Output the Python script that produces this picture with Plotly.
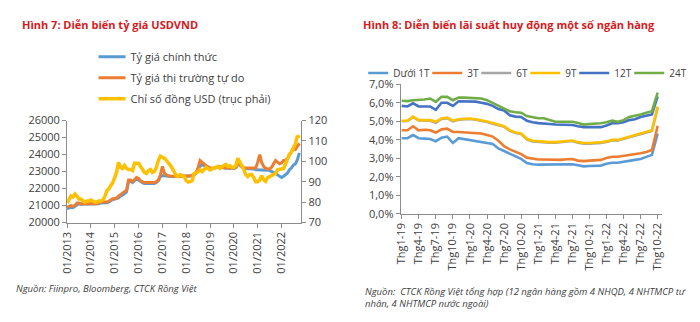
import plotly.graph_objects as go
import pandas as pd

# ---------------- Left chart data (monthly, 01/2013 - 10/2022) ----------------
months = pd.date_range("2013-01-01", "2022-10-01", freq="MS")

official_rate = [
    20800, 20850, 20900, 20880, 20950, 21050, 21100, 21080, 21080, 21080, 21080, 21080,
    21060, 21060, 21070, 21080, 21100, 21150, 21150, 21150, 21160, 21200, 21300, 21350,
    21380, 21400, 21450, 21550, 21600, 21700, 21800, 22400, 22450, 22350, 22450, 22550,
    22500, 22400, 22350, 22300, 22300, 22300, 22300, 22300, 22300, 22350, 22450, 22700,
    22750, 22750, 22720, 22700, 22700, 22700, 22700, 22700, 22700, 22700, 22700, 22700,
    22700, 22700, 22730, 22760, 22800, 22900, 23150, 23300, 23400, 23350, 23300, 23250,
    23180, 23180, 23200, 23220, 23280, 23260, 23230, 23200, 23190, 23190, 23180, 23180,
    23180, 23220, 23450, 23380, 23280, 23180, 23180, 23180, 23180, 23180, 23150, 23100,
    23100, 23100, 23100, 23080, 23080, 23080, 23050, 23000, 22950, 22900, 22800, 22720,
    22650, 22720, 22800, 22900, 23100, 23200, 23380, 23450, 23700, 24100,
]
free_market_rate = [
    20900, 20950, 21000, 20950, 21000, 21150, 21150, 21100, 21100, 21100, 21100, 21100,
    21080, 21080, 21090, 21100, 21150, 21200, 21200, 21200, 21200, 21250, 21350, 21400,
    21400, 21450, 21550, 21650, 21700, 21800, 21900, 22500, 22500, 22400, 22500, 22650,
    22600, 22450, 22400, 22350, 22350, 22350, 22350, 22350, 22350, 22400, 22500, 22800,
    23300, 22900, 22800, 22750, 22720, 22720, 22720, 22720, 22720, 22720, 22720, 22720,
    22720, 22720, 22750, 22780, 22820, 22950, 23200, 23650, 23550, 23400, 23350, 23280,
    23200, 23200, 23220, 23250, 23300, 23280, 23250, 23220, 23200, 23200, 23200, 23200,
    23200, 23250, 23650, 23400, 23300, 23200, 23200, 23200, 23200, 23200, 23200, 23200,
    23550, 24000, 23550, 23300, 23200, 23150, 23150, 23250, 23450, 23650, 23550, 23450,
    23500, 23650, 23650, 23750, 23950, 24150, 24350, 24300, 24500, 24650,
]
usd_index = [
    79.5, 81.5, 83.0, 82.5, 84.0, 83.0, 81.5, 81.5, 80.5, 80.0, 80.5, 80.5,
    81.0, 80.5, 80.0, 80.0, 80.5, 80.5, 81.0, 82.5, 85.5, 86.5, 88.0, 89.5,
    92.0, 95.0, 99.5, 97.0, 96.5, 98.0, 96.5, 96.0, 96.0, 95.5, 99.0, 99.0,
    99.0, 97.5, 96.0, 94.5, 94.0, 95.5, 96.0, 94.5, 95.0, 97.0, 100.5, 102.5,
    102.0, 101.5, 100.5, 99.5, 98.0, 96.5, 94.5, 93.0, 92.5, 93.5, 93.0, 92.5,
    90.5, 89.8, 90.0, 90.5, 94.0, 94.5, 94.8, 95.8, 95.0, 96.0, 97.0, 96.5,
    95.8, 96.3, 96.8, 97.2, 97.5, 96.5, 97.5, 98.0, 98.5, 97.5, 97.8, 97.0,
    97.0, 98.0, 101.5, 99.5, 98.5, 96.0, 93.5, 92.5, 93.5, 93.5, 92.0, 90.0,
    90.0, 90.8, 93.0, 91.0, 90.2, 92.0, 92.5, 93.0, 93.7, 94.0, 95.8, 96.0,
    96.5, 96.5, 98.5, 101.0, 103.5, 104.5, 106.5, 108.5, 112.5, 111.5,
]
left_names = ["Tỷ giá chính thức", "Tỷ giá thị trường tự do", "Chỉ số đồng USD (trục phải)"]

# ---------------- Right chart data (monthly, Thg1-19 - Thg10-22) ----------------
rate_months = [f"Thg{m}-{y % 100:02d}" for y in range(2019, 2023) for m in range(1, 13)][:46]

rate_under_1m = [4.08, 4.08, 4.25, 4.08, 4.06, 4.04, 3.92, 4.11, 4.17, 3.82,
                 4.08, 4.03, 3.99, 3.96, 3.91, 3.82, 3.77, 3.53, 3.39, 3.22,
                 3.08, 2.96, 2.74, 2.67, 2.65, 2.65, 2.63, 2.63, 2.63, 2.65,
                 2.67, 2.62, 2.56, 2.58, 2.58, 2.60, 2.70, 2.75, 2.75, 2.79,
                 2.84, 2.91, 2.96, 3.05, 3.18, 4.33]
rate_3m = [4.51, 4.51, 4.73, 4.51, 4.54, 4.51, 4.39, 4.56, 4.60, 4.42,
           4.42, 4.39, 4.39, 4.37, 4.34, 4.25, 4.17, 3.94, 3.65, 3.48,
           3.34, 3.22, 3.03, 2.96, 2.93, 2.93, 2.91, 2.91, 2.91, 2.94,
           2.96, 2.87, 2.84, 2.87, 2.87, 2.91, 3.01, 3.08, 3.08, 3.12,
           3.17, 3.22, 3.27, 3.34, 3.44, 4.75]
rate_6m = [5.00, 5.01, 5.22, 5.04, 5.04, 5.03, 4.92, 5.12, 5.17, 5.00,
           5.08, 5.12, 5.12, 5.08, 5.03, 4.96, 4.87, 4.79, 4.70, 4.48,
           4.36, 4.31, 4.02, 3.91, 3.88, 3.88, 3.84, 3.84, 3.88, 3.91,
           3.93, 3.84, 3.79, 3.79, 3.79, 3.83, 3.88, 3.96, 3.96, 4.05,
           4.10, 4.19, 4.29, 4.39, 4.48, 5.72]
rate_9m = [5.03, 5.03, 5.25, 5.06, 5.06, 5.06, 4.98, 5.15, 5.20, 5.03,
           5.11, 5.15, 5.15, 5.11, 5.06, 4.99, 4.90, 4.82, 4.73, 4.51,
           4.39, 4.34, 4.05, 3.94, 3.91, 3.91, 3.87, 3.87, 3.91, 3.94,
           3.96, 3.87, 3.82, 3.82, 3.82, 3.86, 3.91, 3.99, 3.99, 4.08,
           4.13, 4.22, 4.32, 4.42, 4.51, 5.80]
rate_12m = [5.83, 5.80, 5.97, 5.80, 5.80, 5.80, 5.62, 6.00, 6.00, 5.83,
            6.08, 6.08, 6.06, 6.06, 6.00, 5.94, 5.83, 5.66, 5.58, 5.32,
            5.25, 5.23, 5.03, 4.94, 4.90, 4.89, 4.85, 4.82, 4.80, 4.82,
            4.80, 4.73, 4.68, 4.68, 4.68, 4.68, 4.77, 4.89, 4.90, 4.94,
            5.06, 5.11, 5.23, 5.32, 5.37, 6.35]
rate_24m = [6.11, 6.09, 6.14, 6.14, 6.18, 6.23, 6.05, 6.32, 6.32, 6.14,
            6.28, 6.28, 6.27, 6.27, 6.23, 6.14, 6.00, 5.83, 5.71, 5.54,
            5.49, 5.46, 5.28, 5.20, 5.16, 5.16, 5.08, 4.97, 4.97, 4.99,
            4.97, 4.91, 4.82, 4.85, 4.85, 4.89, 4.94, 5.03, 4.97, 5.06,
            5.23, 5.28, 5.37, 5.46, 5.54, 6.55]
rate_names = ["Dưới 1T", "3T", "6T", "9T", "12T", "24T"]

# ---------------- Styling ----------------
W, H = 700, 322
FONT = "Open Sans"
TXT = "#404040"
AXC = "#8c8c8c"
RED = "#D71920"

def px(x):
    return x / W

def py(y):
    return 1 - y / H

fig = go.Figure()

left_colors = ["#5B9BD5", "#ED7D31", "#FFC000"]
left_axes = ["y", "y", "y2"]
left_widths = [3, 3, 3.5]
for i, (name, vals) in enumerate(zip(left_names, [official_rate, free_market_rate, usd_index])):
    fig.add_trace(go.Scatter(x=months, y=vals, name=name, mode="lines",
                             line=dict(color=left_colors[i], width=left_widths[i]),
                             xaxis="x", yaxis=left_axes[i], legend="legend",
                             legendgroup=f"g{i}"))

rate_colors = ["#5B9BD5", "#ED7D31", "#A5A5A5", "#FFC000", "#4472C4", "#70AD47"]
rate_legend_widths = [44, 19, 19, 19, 25, 25]
for name, vals, col, lw in zip(rate_names, [rate_under_1m, rate_3m, rate_6m, rate_9m, rate_12m, rate_24m],
                               rate_colors, rate_legend_widths):
    fig.add_trace(go.Scatter(x=rate_months, y=[v / 100 for v in vals], name=name, mode="lines",
                             line=dict(color=col, width=2.6), xaxis="x2", yaxis="y3",
                             legend="legend2", legendwidth=lw))

tickfont = dict(family=FONT, size=11, color=TXT)
axis_common = dict(showgrid=False, zeroline=False, showline=True, linecolor=AXC, linewidth=1,
                   ticks="outside", ticklen=4, tickcolor=AXC, tickfont=tickfont)

fig.update_layout(
    width=W, height=H, autosize=False,
    margin=dict(l=0, r=0, t=0, b=0),
    paper_bgcolor="white", plot_bgcolor="white",
    separators=",.",
    font=dict(family=FONT, size=11, color=TXT),
    showlegend=True,
    xaxis=dict(domain=[px(60), px(298)], anchor="y", type="date",
               range=["2013-01-01", "2022-10-31"], tick0="2013-01-01", dtick="M12",
               tickformat="%m/%Y", tickangle=-90, **axis_common),
    yaxis=dict(domain=[py(225), py(118)], anchor="x", range=[20000, 26000], dtick=1000,
               tickformat="d", **axis_common),
    yaxis2=dict(overlaying="y", side="right", anchor="x", range=[70, 120], dtick=10, **axis_common),
    xaxis2=dict(domain=[px(399), px(664)], anchor="y3", type="category",
                range=[-0.17, 45.69], tickmode="array", tickvals=rate_months[::3],
                tickangle=-90, **axis_common),
    yaxis3=dict(domain=[py(215.7), py(80)], anchor="x2", range=[0, 0.07], dtick=0.01,
                tickformat=".1%", **axis_common),
    legend=dict(x=px(92), y=py(36), xanchor="left", yanchor="top", orientation="v",
                bgcolor="rgba(0,0,0,0)", font=dict(family=FONT, size=11, color=TXT),
                itemwidth=30, indentation=-8, tracegroupgap=2),
    legend2=dict(x=px(366), y=py(53), xanchor="left", yanchor="top", orientation="h",
                 bgcolor="rgba(0,0,0,0)", font=dict(family=FONT, size=10, color=TXT),
                 itemwidth=30, indentation=-15),
)

annotations = [
    dict(text="<b>Hình 7: Diễn biến tỷ giá USDVND</b>", x=px(12), y=py(17), xanchor="left",
         yanchor="middle", font=dict(family=FONT, size=11, color=RED)),
    dict(text="<b>Hình 8: Diễn biến lãi suất huy động một số ngân hàng</b>", x=px(359), y=py(17),
         xanchor="left", yanchor="middle", font=dict(family=FONT, size=11, color=RED)),
    dict(text="<i>Nguồn: Fiinpro, Bloomberg, CTCK Rồng Việt</i>", x=px(6), y=py(294),
         xanchor="left", yanchor="middle", font=dict(family=FONT, size=9.5, color=TXT)),
    dict(text="<i>Nguồn:  CTCK Rồng Việt tổng hợp (12 ngân hàng gồm 4 NHQD, 4 NHTMCP tư<br>"
              "nhân, 4 NHTMCP nước ngoài)</i>", x=px(361), y=py(288), xanchor="left",
         yanchor="top", align="left", font=dict(family=FONT, size=9.5, color=TXT)),
]
for a in annotations:
    a.update(xref="paper", yref="paper", showarrow=False)
fig.update_layout(annotations=annotations)

fig.write_html("out.html")
